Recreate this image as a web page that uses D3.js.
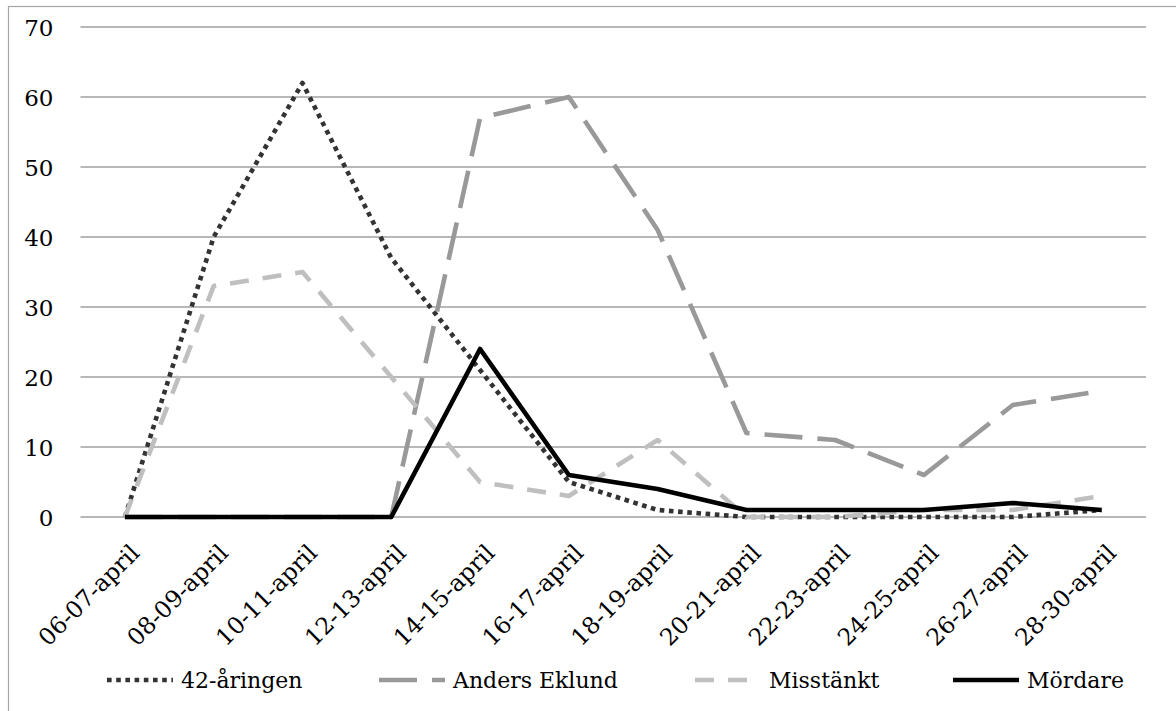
<!DOCTYPE html>
<html>
<head>
<meta charset="utf-8">
<script src="https://cdn.jsdelivr.net/npm/d3@7"></script>
<style>
  html, body { margin: 0; padding: 0; background: #fff; }
  svg text { font-family: "DejaVu Serif", serif; fill: #000; }
</style>
</head>
<body>
<div id="chart"></div>
<script>
// Categories (x axis)
const categories = ["06-07-april", "08-09-april", "10-11-april", "12-13-april", "14-15-april",
    "16-17-april", "18-19-april", "20-21-april", "22-23-april", "24-25-april",
    "26-27-april", "28-30-april"];

// Series values
const aringen = [0, 40, 62, 37, 21, 5, 1, 0, 0, 0, 0, 1];
const eklund = [0, 0, 0, 0, 57, 60, 41, 12, 11, 6, 16, 18];
const misstankt = [0, 33, 35, 20, 5, 3, 11, 0, 0, 1, 1, 3];
const mordare = [0, 0, 0, 0, 24, 6, 4, 1, 1, 1, 2, 1];

const seriesNames = ["42-åringen", "Anders Eklund", "Misstänkt", "Mördare"];
const yTicks = [0, 10, 20, 30, 40, 50, 60, 70];

const width = 1176, height = 711;
const plot = { left: 80.5, right: 1146, top: 27, bottom: 517 };

const svg = d3.select("#chart")
    .append("svg")
    .attr("width", width)
    .attr("height", height);

// chart border (only top and left fall inside the picture)
svg.append("rect")
    .attr("x", 8.5).attr("y", 6.5)
    .attr("width", 1200).attr("height", 800)
    .attr("fill", "none")
    .attr("stroke", "#a6a6a6")
    .attr("stroke-width", 1.2);

const x = d3.scalePoint()
    .domain(categories)
    .range([plot.left, plot.right])
    .padding(0.5);

const y = d3.scaleLinear()
    .domain([0, 70])
    .range([plot.bottom, plot.top]);

// gridlines
svg.append("g")
    .selectAll("line")
    .data(yTicks)
    .enter()
    .append("line")
    .attr("x1", plot.left)
    .attr("x2", plot.right)
    .attr("y1", d => y(d))
    .attr("y2", d => y(d))
    .attr("stroke", "#a0a0a0")
    .attr("stroke-width", 1.3);

// y axis labels
const yAxis = svg.append("g")
    .attr("transform", `translate(${plot.left - 27},0)`)
    .call(d3.axisLeft(y).tickValues(yTicks).tickSize(0).tickPadding(0));
yAxis.select(".domain").remove();
yAxis.selectAll("text")
    .style("font-family", "DejaVu Serif")
    .style("font-size", "23px")
    .attr("dy", "0.36em");

// x axis labels, rotated
const xAxis = svg.append("g")
    .attr("transform", `translate(0,${plot.bottom})`)
    .call(d3.axisBottom(x).tickSize(0).tickPadding(0));
xAxis.select(".domain").remove();
xAxis.selectAll("text")
    .style("font-family", "DejaVu Serif")
    .style("font-size", "23.5px")
    .attr("text-anchor", "end")
    .attr("dy", 0)
    .attr("y", 0)
    .attr("transform", "translate(15.5,37.5) rotate(-45)");

// series styles
const styles = [
    { values: aringen, color: "#333333", dash: "4.6,4.6" },
    { values: eklund, color: "#999999", dash: "38,15" },
    { values: misstankt, color: "#bfbfbf", dash: "19,14" },
    { values: mordare, color: "#000000", dash: null }
];

const line = d3.line()
    .x((d, i) => x(categories[i]))
    .y(d => y(d));

svg.append("g")
    .selectAll("path")
    .data(styles)
    .enter()
    .append("path")
    .attr("d", d => line(d.values))
    .attr("fill", "none")
    .attr("stroke", d => d.color)
    .attr("stroke-width", 4.6)
    .attr("stroke-linejoin", "round")
    .attr("stroke-dasharray", d => d.dash);

// legend
const legendX = [107, 379, 695, 953];
const legendY = 680;
const legend = svg.append("g")
    .selectAll("g")
    .data(styles)
    .enter()
    .append("g")
    .attr("transform", (d, i) => `translate(${legendX[i]},${legendY})`);

legend.append("line")
    .attr("x1", 0).attr("x2", 66)
    .attr("y1", 0).attr("y2", 0)
    .attr("stroke", d => d.color)
    .attr("stroke-width", 4.6)
    .attr("stroke-dasharray", d => d.dash);

legend.append("text")
    .attr("x", 74)
    .attr("y", 8)
    .style("font-size", "22px")
    .text((d, i) => seriesNames[i]);
</script>
</body>
</html>
